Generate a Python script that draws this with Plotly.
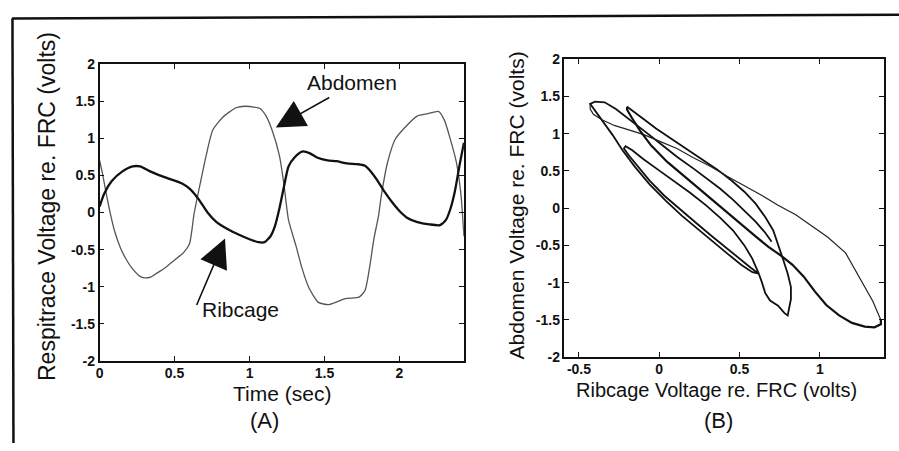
import plotly.graph_objects as go

# ---------------- Panel A data (time traces) ----------------
time_rib = [0.00, 0.03, 0.08, 0.15, 0.22, 0.27, 0.33, 0.40, 0.47, 0.55, 0.60, 0.66, 0.72, 0.78,
            0.85, 0.93, 1.00, 1.06, 1.10, 1.14, 1.17, 1.20, 1.23, 1.26, 1.30, 1.35, 1.40, 1.45,
            1.52, 1.58, 1.65, 1.72, 1.77, 1.81, 1.85, 1.90, 1.95, 2.00, 2.05, 2.12, 2.20, 2.27,
            2.31, 2.34, 2.37, 2.40, 2.43]
ribcage = [0.08, 0.25, 0.42, 0.55, 0.62, 0.62, 0.56, 0.50, 0.45, 0.39, 0.32, 0.18, 0.00, -0.13,
           -0.22, -0.30, -0.36, -0.40, -0.40, -0.32, -0.18, 0.06, 0.35, 0.62, 0.74, 0.82, 0.80, 0.74,
           0.70, 0.69, 0.66, 0.65, 0.63, 0.55, 0.44, 0.28, 0.14, 0.02, -0.07, -0.13, -0.16, -0.17,
           -0.10, 0.05, 0.29, 0.63, 0.94]

time_abd = [0.00, 0.02, 0.04, 0.07, 0.10, 0.14, 0.18, 0.22, 0.27, 0.30, 0.34, 0.38, 0.44, 0.50,
            0.56, 0.60, 0.63, 0.665, 0.71, 0.755, 0.82, 0.91, 0.97, 1.03, 1.07, 1.11, 1.15, 1.20,
            1.23, 1.26, 1.31, 1.35, 1.395, 1.46, 1.53, 1.64, 1.73, 1.77, 1.80, 1.83, 1.86, 1.88,
            1.92, 1.97, 2.03, 2.12, 2.19, 2.26, 2.30, 2.34, 2.38, 2.41, 2.43]
abdomen = [0.70, 0.52, 0.30, 0.00, -0.25, -0.48, -0.64, -0.76, -0.86, -0.88, -0.87, -0.82, -0.74, -0.64,
           -0.54, -0.42, -0.02, 0.33, 0.76, 1.11, 1.28, 1.41, 1.43, 1.42, 1.40, 1.30, 1.11, 0.76,
           0.37, -0.10, -0.45, -0.75, -1.01, -1.21, -1.24, -1.16, -1.14, -1.05, -0.75, -0.35, -0.05, 0.24,
           0.67, 0.98, 1.13, 1.30, 1.33, 1.36, 1.24, 0.98, 0.67, 0.24, -0.32]

# ---------------- Panel B data (ribcage vs abdomen) ----------------
loop1_rib = [-0.20, -0.16, -0.10, -0.02, 0.07, 0.16, 0.26, 0.36, 0.45, 0.53, 0.60, 0.66, 0.71, 0.74,
             0.77, 0.80, 0.82, 0.82, 0.81, 0.80, 0.78, 0.74, 0.69, 0.66, 0.64, 0.62, 0.57, 0.50,
             0.42, 0.33, 0.23, 0.13, 0.03, -0.06, -0.13, -0.19, -0.22, -0.21, -0.17, -0.10, -0.01,
             0.09, 0.19, 0.29, 0.38, 0.46, 0.53, 0.58, 0.61, 0.62, 0.58, 0.51, 0.43, 0.34, 0.24,
             0.14, 0.04, -0.06, -0.15, -0.23, -0.29, -0.35, -0.40, -0.43, -0.40, -0.34, -0.27,
             -0.19, -0.09, 0.01, 0.11, 0.22, 0.30, 0.38, 0.46, 0.53, 0.60, 0.66, 0.70]
loop1_abd = [1.36, 1.30, 1.20, 1.07, 0.94, 0.81, 0.67, 0.52, 0.37, 0.22, 0.06, -0.12, -0.30, -0.48,
             -0.68, -0.88, -1.06, -1.22, -1.36, -1.44, -1.41, -1.31, -1.24, -1.14, -1.00, -0.88,
             -0.80, -0.68, -0.54, -0.38, -0.20, -0.02, 0.17, 0.37, 0.55, 0.71, 0.80, 0.83, 0.78,
             0.66, 0.52, 0.37, 0.21, 0.04, -0.13, -0.30, -0.50, -0.68, -0.82, -0.88, -0.86, -0.76,
             -0.62, -0.46, -0.28, -0.10, 0.10, 0.32, 0.55, 0.78, 0.98, 1.16, 1.31, 1.40, 1.43,
             1.42, 1.33, 1.20, 1.03, 0.86, 0.69, 0.52, 0.39, 0.26, 0.11, -0.03, -0.18, -0.33, -0.45]

outer_rib = [-0.43, -0.43, -0.41, -0.36, -0.28, -0.19, -0.10, 0.00, 0.11, 0.21, 0.32, 0.42, 0.53,
             0.64, 0.74, 0.85, 0.95, 1.05, 1.16, 1.24, 1.30, 1.33, 1.36, 1.38]
outer_abd = [1.40, 1.33, 1.26, 1.19, 1.11, 1.05, 0.99, 0.90, 0.80, 0.68, 0.56, 0.43, 0.30,
             0.17, 0.04, -0.09, -0.24, -0.39, -0.60, -0.90, -1.12, -1.25, -1.40, -1.50]

return_rib = [1.38, 1.38, 1.34, 1.28, 1.20, 1.12, 1.04, 0.97, 0.90, 0.83, 0.76, 0.68, 0.60, 0.50,
              0.40, 0.29, 0.17, 0.05, -0.05, -0.12, -0.17, -0.20, -0.20]
return_abd = [-1.50, -1.56, -1.60, -1.59, -1.54, -1.44, -1.30, -1.12, -0.92, -0.76, -0.64, -0.52,
              -0.38, -0.20, -0.02, 0.18, 0.40, 0.62, 0.84, 1.04, 1.21, 1.32, 1.36]

# ---------------- Ticks ----------------
tickvals_tA = [0, 0.5, 1, 1.5, 2]
ticktext_tA = ["0", "0.5", "1", "1.5", "2"]
tickvals_v = [-2, -1.5, -1, -0.5, 0, 0.5, 1, 1.5, 2]
ticktext_v = ["-2", "-1.5", "-1", "-0.5", "0", "0.5", "1", "1.5", "2"]
tickvals_rB = [-0.5, 0, 0.5, 1]
ticktext_rB = ["-0.5", "0", "0.5", "1"]

W, H = 899, 451
FONT = "Liberation Sans, Arial, Helvetica, sans-serif"
INK = "#111111"


def px(x):
    return x / W


def py(y):
    return 1 - y / H


fig = go.Figure()

fig.add_trace(go.Scatter(x=time_abd, y=abdomen, mode="lines", name="Abdomen",
                         line=dict(color="#555555", width=1.3, shape="spline", smoothing=0.6),
                         xaxis="x", yaxis="y"))
fig.add_trace(go.Scatter(x=time_rib, y=ribcage, mode="lines", name="Ribcage",
                         line=dict(color=INK, width=2.3, shape="spline", smoothing=0.6),
                         xaxis="x", yaxis="y"))

fig.add_trace(go.Scatter(x=loop1_rib, y=loop1_abd, mode="lines",
                         line=dict(color=INK, width=1.8), xaxis="x2", yaxis="y2"))
fig.add_trace(go.Scatter(x=outer_rib, y=outer_abd, mode="lines",
                         line=dict(color="#222222", width=1.2), xaxis="x2", yaxis="y2"))
fig.add_trace(go.Scatter(x=return_rib, y=return_abd, mode="lines",
                         line=dict(color=INK, width=2.2), xaxis="x2", yaxis="y2"))

axis_common = dict(showline=True, linecolor=INK, linewidth=1.5, mirror="ticks",
                   ticks="inside", ticklen=5, tickwidth=1.2, tickcolor=INK,
                   showgrid=False, zeroline=False,
                   tickfont=dict(family=FONT, size=14, color=INK, weight="bold"))

fig.update_layout(
    width=W, height=H,
    margin=dict(l=0, r=0, t=0, b=0),
    paper_bgcolor="white", plot_bgcolor="white",
    showlegend=False,
    xaxis=dict(domain=[px(96), px(462)], range=[0, 2.43], anchor="y", ticklabelstandoff=-2,
               tickmode="array", tickvals=tickvals_tA, ticktext=ticktext_tA, **axis_common),
    yaxis=dict(domain=[py(366), py(58)], range=[-2, 2], anchor="x",
               tickmode="array", tickvals=tickvals_v, ticktext=ticktext_v, **axis_common),
    xaxis2=dict(domain=[px(563), px(884)], range=[-0.59, 1.4], anchor="y2", ticklabelstandoff=-2,
                tickmode="array", tickvals=tickvals_rB, ticktext=ticktext_rB, **axis_common),
    yaxis2=dict(domain=[py(362), py(53)], range=[-2, 2], anchor="x2",
                tickmode="array", tickvals=tickvals_v, ticktext=ticktext_v, **axis_common),
)

texts = [
    ("Respitrace Voltage re. FRC (volts)", 42.5, 206, -90, 23),
    ("Abdomen Voltage re. FRC (volts)", 515, 205, -90, 21),
    ("Time (sec)", 279.5, 400, 0, 21),
    ("(A)", 262, 428, 0, 22),
    ("Ribcage Voltage re. FRC (volts)", 716, 396, 0, 20),
    ("(B)", 717.5, 428, 0, 22),
    ("Abdomen", 350, 77, 0, 21),
    ("Ribcage", 238, 313, 0, 21),
]
for t, x, y, ang, sz in texts:
    fig.add_annotation(text=t, x=px(x), y=py(y), xref="paper", yref="paper",
                       xanchor="center", yanchor="middle", showarrow=False, borderpad=0,
                       textangle=ang, font=dict(family=FONT, size=sz, color=INK))

# arrows (tip, tail offset in px)
for tipx, tipy, axo, ayo in [(273, 124, 55, -31), (222, 239, -29, 68)]:
    fig.add_annotation(text="", x=px(tipx), y=py(tipy), xref="paper", yref="paper",
                       ax=axo, ay=ayo, showarrow=True, arrowhead=2, arrowsize=3.6,
                       arrowwidth=1.6, arrowcolor=INK)

# outer frame (top and left rules)
fig.add_shape(type="line", xref="paper", yref="paper", x0=px(8), y0=py(11), x1=1.0, y1=py(7),
              line=dict(color=INK, width=2.5))
fig.add_shape(type="line", xref="paper", yref="paper", x0=px(8.5), y0=py(11), x1=px(9.5), y1=0,
              line=dict(color=INK, width=2.5))

fig.write_html("out.html")
